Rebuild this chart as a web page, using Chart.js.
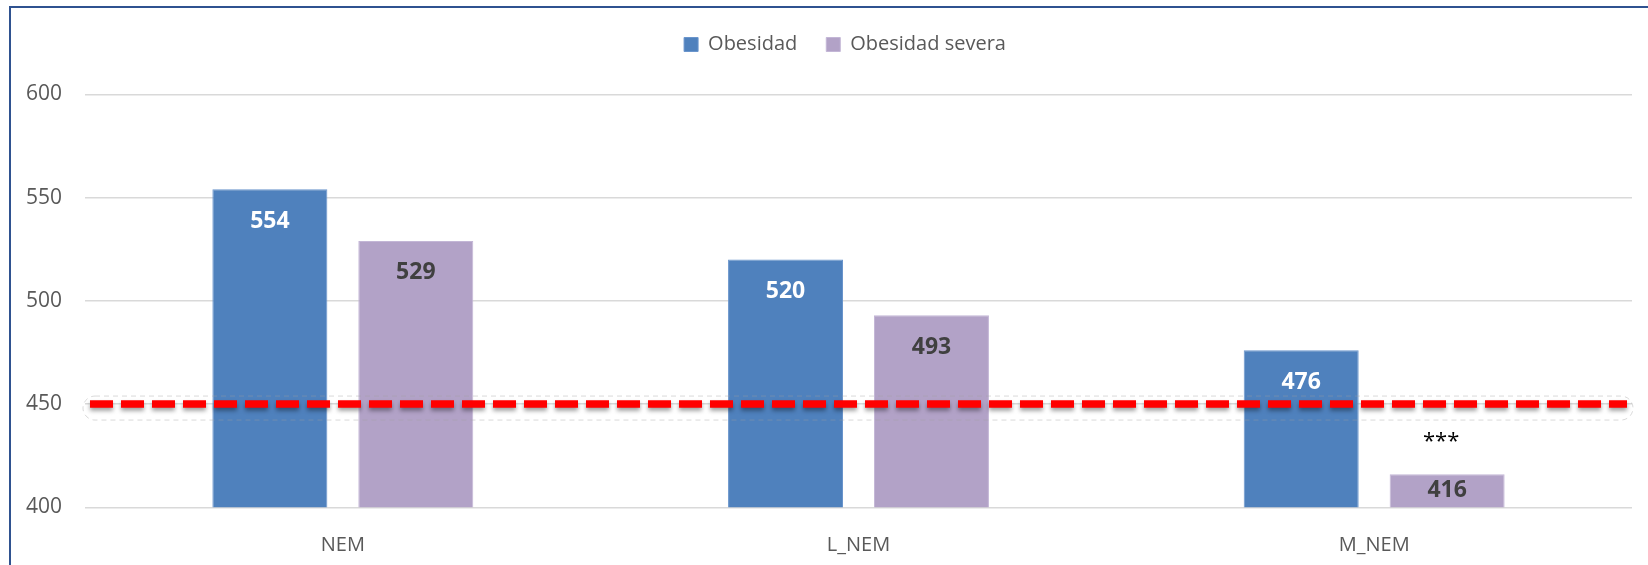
<!DOCTYPE html>
<html>
<head>
<meta charset="utf-8">
<script src="https://cdn.jsdelivr.net/npm/chart.js@4/dist/chart.umd.min.js"></script>
<style>
  html, body { margin: 0; padding: 0; background: #ffffff; overflow: hidden; }
  #wrap { position: relative; width: 1648px; height: 565px; }
  #frame {
    position: absolute; left: 9px; top: 6px; width: 2000px; height: 1000px;
    border: 2.5px solid #2F5290; pointer-events: none;
  }
</style>
</head>
<body>
<div id="wrap">
  <canvas id="chart" width="1648" height="565"></canvas>
  <div id="frame"></div>
</div>
<script>
// Categories and values
const categories = ['NEM', 'L_NEM', 'M_NEM'];
const obesidad = [554, 520, 476];
const obesidadSevera = [529, 493, 416];
const seriesNames = ['Obesidad', 'Obesidad severa'];
const referenceLevel = 450;
const yTicks = [400, 450, 500, 550, 600];
const severaNotes = ['', '', '***'];

const FONT = "'Open Sans', 'Liberation Sans', sans-serif";

// Fixed legend block height so the plot sits below it,
// and a slight rightward shift of the legend row
const legendPlacement = {
  id: 'legendPlacement',
  beforeInit(chart) {
    const fit = chart.legend.fit;
    chart.legend.fit = function () {
      fit.bind(chart.legend)();
      this.height = 88.8;
    };
  },
  afterLayout(chart) {
    chart.legend.left += 29;
    chart.legend.right += 29;
  }
};

// Red dashed reference line, bar value labels and significance marks
const overlays = {
  id: 'overlays',
  afterDatasetsDraw(chart) {
    const ctx = chart.ctx;
    const area = chart.chartArea;
    const y = chart.scales.y.getPixelForValue(referenceLevel);
    const base = chart.scales.y.getPixelForValue(chart.scales.y.min);

    // faint outline around the reference line
    ctx.save();
    ctx.strokeStyle = 'rgba(160,160,160,0.5)';
    ctx.lineWidth = 0.8;
    ctx.setLineDash([5, 4]);
    ctx.beginPath();
    ctx.roundRect(area.left - 2, y - 8, area.right - area.left + 3, 24, 12);
    ctx.stroke();
    ctx.restore();

    // dashed line with a soft shadow
    ctx.save();
    ctx.strokeStyle = '#FF0000';
    ctx.lineWidth = 7.5;
    ctx.setLineDash([23, 8]);
    ctx.shadowColor = 'rgba(0,0,0,0.38)';
    ctx.shadowBlur = 4;
    ctx.shadowOffsetY = 3;
    ctx.beginPath();
    ctx.moveTo(area.left + 5, y);
    ctx.lineTo(area.right - 5, y);
    ctx.stroke();
    ctx.restore();

    // value labels inside the bars
    const labelColors = ['#FFFFFF', '#404040'];
    ctx.save();
    ctx.font = 'bold 23px ' + FONT;
    ctx.textAlign = 'center';
    ctx.textBaseline = 'middle';
    chart.data.datasets.forEach((ds, di) => {
      const meta = chart.getDatasetMeta(di);
      meta.data.forEach((bar, i) => {
        const top = bar.y;
        const ly = Math.min(top + 32, (top + base) / 2);
        ctx.fillStyle = labelColors[di];
        ctx.fillText(String(ds.data[i]), bar.x, ly);
      });
    });
    ctx.restore();

    // significance marks for the second series
    const meta2 = chart.getDatasetMeta(1);
    ctx.save();
    ctx.font = '22px ' + FONT;
    ctx.fillStyle = '#000000';
    ctx.textAlign = 'center';
    ctx.textBaseline = 'middle';
    meta2.data.forEach((bar, i) => {
      if (severaNotes[i]) ctx.fillText(severaNotes[i], bar.x - 6, y + 38);
    });
    ctx.restore();
  }
};

new Chart(document.getElementById('chart'), {
  type: 'bar',
  data: {
    labels: categories,
    datasets: [
      { label: seriesNames[0], data: obesidad, backgroundColor: '#4F81BD',
        borderColor: '#6A95CC', borderWidth: 1 },
      { label: seriesNames[1], data: obesidadSevera, backgroundColor: '#B2A2C7',
        borderColor: '#C3B6D6', borderWidth: 1 }
    ]
  },
  options: {
    responsive: false,
    animation: false,
    categoryPercentage: 0.566,
    barPercentage: 0.788,
    layout: { padding: { top: 5.5, right: 16, bottom: 0, left: 0 } },
    plugins: {
      legend: {
        position: 'top',
        align: 'center',
        labels: {
          boxWidth: 14, boxHeight: 14, padding: 29,
          color: '#595959',
          font: { family: FONT, size: 20 }
        }
      },
      tooltip: { enabled: false }
    },
    scales: {
      x: {
        grid: { display: false },
        border: { display: false },
        ticks: { color: '#595959', font: { family: FONT, size: 20 }, padding: 18 },
        afterFit(scale) { scale.height = 57.7; }
      },
      y: {
        min: 400,
        max: 600,
        afterBuildTicks(scale) { scale.ticks = yTicks.map(v => ({ value: v })); },
        grid: { color: '#D9D9D9', lineWidth: 1.6, drawTicks: false },
        border: { display: false },
        ticks: { color: '#595959', font: { family: FONT, size: 21 }, padding: 23 },
        afterFit(scale) { scale.width = 85; }
      }
    }
  },
  plugins: [legendPlacement, overlays]
});
</script>
</body>
</html>
